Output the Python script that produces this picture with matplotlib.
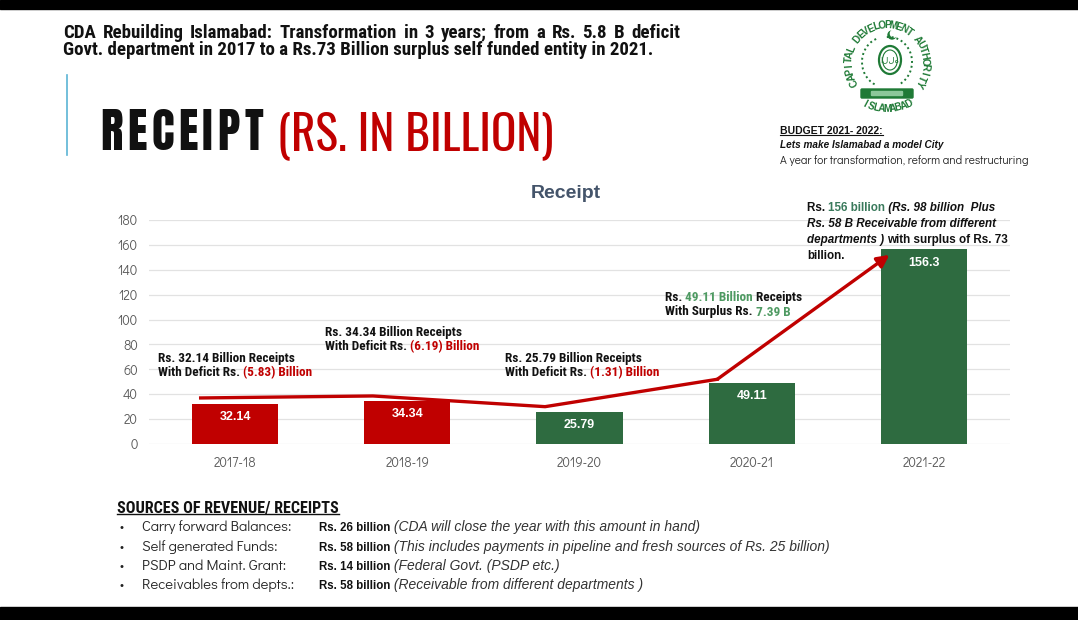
import numpy as np
import matplotlib
matplotlib.use("Agg")
import matplotlib.pyplot as plt
from matplotlib.patches import Rectangle, Circle, Arc, Ellipse, FancyBboxPatch
from matplotlib import font_manager

ttf = font_manager.fontManager.ttflist
names = {f.name for f in ttf}


def pick(*cands):
    for c in cands:
        if c in names:
            return c
    return "DejaVu Sans"


def has_bold(n):
    return any(f.name == n and isinstance(f.weight, int) and f.weight >= 600 for f in ttf)


SANS = pick("Liberation Sans", "DejaVu Sans")
COND = pick("Roboto Condensed", "Barlow Condensed", "Archivo Narrow", "Liberation Sans Narrow", SANS)
HEAD = pick("Oswald", "Bebas Neue", "Antonio", "Roboto Condensed", SANS)
GEO = pick("Didact Gothic", "Questrial", "Century Gothic", SANS)
if has_bold("Oswald"):
    HEAD_B, HEAD_W = "Oswald", "bold"
elif "Anton" in names:
    HEAD_B, HEAD_W = "Anton", "normal"
elif "Bebas Neue" in names:
    HEAD_B, HEAD_W = "Bebas Neue", "normal"
else:
    HEAD_B, HEAD_W = COND, "bold"

# chart data
years = ["2017-18", "2018-19", "2019-20", "2020-21", "2021-22"]
receipts = [32.14, 34.34, 25.79, 49.11, 156.3]
balance = [-5.83, -6.19, -1.31, 7.39, 73]
trend = [37, 38.6, 30, 52, 152]          # hand drawn red arrow line
yticks = list(range(0, 181, 20))

# sources of revenue
sources = ["Carry forward Balances:", "Self generated Funds:",
           "PSDP and Maint. Grant:", "Receivables from depts.:"]
amounts = [26, 58, 14, 58]
notes = ["(CDA will close the year with this amount in hand)",
         "(This includes payments in pipeline and fresh sources of Rs. 25 billion)",
         "(Federal Govt. (PSDP etc.)",
         "(Receivable from different departments )"]

RED = "#C00000"
GREEN = "#2E6B40"
LGREEN = "#4E9A62"
TEAL = "#3A7A5C"
LOGO = "#1F7A36"
bar_colors = [RED, RED, GREEN, GREEN, GREEN]

fig = plt.figure(figsize=(10.78, 6.2), dpi=100)
fig.patch.set_facecolor("white")

# ---- main chart
ax = fig.add_axes([149 / 1078, 176 / 620, 861 / 1078, 224 / 620])
x = np.arange(len(years))
ax.bar(x, receipts, width=0.5, color=bar_colors, zorder=2)
for i, v in enumerate(receipts):
    ax.annotate(f"{v:g}", (i, v), xytext=(0, -9.5), textcoords="offset points",
                ha="center", va="center", color="white", fontsize=9,
                weight="bold", family=SANS, zorder=4)

xs = x - 0.2
ax.plot(xs[:4], trend[:4], color=RED, lw=2.4, zorder=3, solid_joinstyle="miter")
ax.annotate("", xy=(xs[4], trend[4]), xytext=(xs[3], trend[3]),
            arrowprops=dict(arrowstyle="-|>", color=RED, lw=2.4,
                            mutation_scale=18, shrinkA=0, shrinkB=0), zorder=3)

ax.set_xlim(-0.5, 4.5)
ax.set_ylim(0, 180)
ax.set_yticks(yticks)
ax.set_xticks(x)
ax.set_xticklabels(years)
ax.grid(axis="y", color="#E2E2E2", lw=0.9)
ax.set_axisbelow(True)
for s in ax.spines.values():
    s.set_visible(False)
ax.tick_params(length=0, labelsize=9.5, colors="#595959")
ax.tick_params(axis="y", pad=8)
ax.tick_params(axis="x", pad=9)
for lab in ax.get_xticklabels() + ax.get_yticklabels():
    lab.set_family(GEO)

# ---- overlay in pixel coordinates
bg = fig.add_axes([0, 0, 1, 1])
bg.set_xlim(0, 1078)
bg.set_ylim(620, 0)
bg.axis("off")

renderer = fig.canvas.get_renderer()


def multi_text(x0, y0, parts, **kw):
    t = bg.text(x0, y0, parts[0][0], va="baseline", ha="left", **parts[0][1], **kw)
    for s, extra in parts[1:]:
        t = bg.annotate(s, xy=(1, 0), xycoords=t, va="bottom", ha="left", **extra, **kw)
    return t


def underline(t, lw=1.0):
    bb = t.get_window_extent(renderer).transformed(bg.transData.inverted())
    yb = max(bb.y0, bb.y1) - 1.5
    bg.plot([bb.x0, bb.x1], [yb, yb], color=t.get_color(), lw=lw)


def spread(x0, x1, y, pieces, **kw):
    # place pieces (words or letters) so that they fill x0..x1
    ts = [bg.text(0, y, p, va="baseline", **kw) for p in pieces]
    widths = [t.get_window_extent(renderer).width for t in ts]
    gap = (x1 - x0 - sum(widths)) / (len(pieces) - 1)
    pos = x0
    for t, w in zip(ts, widths):
        t.set_x(pos)
        pos += w + gap


bg.add_patch(Rectangle((0, 0), 1078, 9, color="black"))
bg.add_patch(Rectangle((0, 607), 1078, 13, color="black"))

hdr = dict(fontsize=13.6, weight="bold", family=COND, color="#111111")
spread(63, 680, 38, "CDA Rebuilding Islamabad: Transformation in 3 years; from a Rs. 5.8 B deficit".split(" "), **hdr)
bg.text(63, 55, "Govt. department in 2017 to a Rs.73 Billion surplus self funded entity in 2021.",
        va="baseline", **hdr)

bg.plot([67, 67], [75, 155], color="#5BB4D4", lw=1.2)
spread(100, 263, 150, list("RECEIPT"), fontsize=34, weight=HEAD_W,
       family=HEAD_B, color="#111111")
bg.text(277, 150, "(RS. IN BILLION)", va="baseline", fontsize=34,
        family=HEAD, color=RED)

t = bg.text(780, 131, "BUDGET 2021- 2022:", va="center", fontsize=7.5,
            weight="bold", family=SANS, color="#111111")
underline(t, lw=0.8)
bg.text(780, 145, "Lets make Islamabad a model City", va="center", fontsize=7.2,
        weight="bold", style="italic", family=SANS, color="#111111")
bg.text(780, 160, "A year for transformation, reform and restructuring", va="center",
        fontsize=8.4, family=GEO, color="#222222")


# logo
def arc_text(cx, cy, r, text, a0, a1, top=True, **kw):
    angs = np.linspace(a0, a1, len(text))
    for ch, a in zip(text, angs):
        rad = np.deg2rad(a)
        rot = a - 90 if top else a + 90
        bg.text(cx + r * np.cos(rad), cy - r * np.sin(rad), ch, rotation=rot,
                ha="center", va="center", rotation_mode="anchor", **kw)


cx, cy = 887, 63
arc_text(cx, cy, 38, "CAPITAL DEVELOPMENT AUTHORITY", 210, -32, top=True,
         fontsize=7.2, weight="bold", family=SANS, color=LOGO)
arc_text(cx, cy, 46, "ISLAMABAD", 242, 298, top=False,
         fontsize=7, weight="bold", family=SANS, color=LOGO)
bg.add_patch(Ellipse((cx + 3, cy - 3), 22, 28, fill=False, ec=LOGO, lw=1.6))
bg.add_patch(Ellipse((cx + 3, cy - 3), 15, 20, fill=False, ec=LOGO, lw=0.8))
bg.text(cx + 3, cy - 3, "\u0627\u0644\u0644\u0647", ha="center", va="center", fontsize=6,
        color=LOGO, family=["DejaVu Sans"])
bg.add_patch(Circle((cx + 5, cy - 28), 4, color=LOGO))
bg.add_patch(Circle((cx + 7, cy - 29.5), 3.6, color="white"))
for side in (-1, 1):
    bg.add_patch(Arc((cx + side * 2, cy - 1), 46, 50,
                     theta1=(115 if side < 0 else 265), theta2=(255 if side < 0 else 65),
                     ec=LOGO, lw=1.4, ls=(0, (1, 1.5))))
bg.add_patch(FancyBboxPatch((cx - 25, cy + 27), 50, 7, boxstyle="round,pad=1",
                            color=LOGO))
bg.add_patch(FancyBboxPatch((cx - 15, cy + 29), 30, 3, boxstyle="round,pad=0.5",
                            color="#8CC79A"))

# chart title
bg.text(566, 193, "Receipt", ha="center", va="center", fontsize=14,
        weight="bold", family=SANS, color="#44546A")

# annotations
ann = dict(fontsize=9.5, weight="bold", family=COND)
K = dict(color="#111111")
R = dict(color=RED)
G = dict(color=LGREEN)
ann_pos = [(158, 362), (325, 336), (505, 362), (665, 301)]
for i, (ax0, ay0) in enumerate(ann_pos):
    if balance[i] < 0:
        multi_text(ax0, ay0, [(f"Rs. {receipts[i]:.2f} Billion Receipts", K)], **ann)
        multi_text(ax0, ay0 + 14.5, [("With Deficit Rs. ", K),
                                     (f"({abs(balance[i]):.2f}) Billion", R)], **ann)
    else:
        multi_text(ax0, ay0, [("Rs. ", K), (f"{receipts[i]:.2f} Billion", G),
                              (" Receipts", K)], **ann)
        multi_text(ax0, ay0 + 14.5, [("With Surplus Rs. ", K),
                                     (f"{balance[i]:.2f} B", G)], **ann)

a5 = dict(fontsize=8.4, family=SANS)
BK = dict(color="#111111", weight="bold")
BI = dict(color="#111111", weight="bold", style="italic")
multi_text(807, 211, [("Rs. ", BK), ("156 billion", dict(color=TEAL, weight="bold")),
                      (" (Rs. 98 billion  Plus", BI)], **a5)
multi_text(807, 227, [("Rs. 58 B Receivable from different", BI)], **a5)
multi_text(807, 243, [("departments ) ", BI), (f"with surplus of Rs. {balance[4]}", BK)], **a5)
multi_text(807, 259, [("billion.", BK)], **a5)

# sources of revenue
t = bg.text(117, 508, "SOURCES OF REVENUE/ RECEIPTS", va="center", fontsize=11.6,
            weight="bold", family=COND, color="#111111")
underline(t, lw=1.0)
row_y = [531, 551, 570, 589]
for yy, src, amt, note in zip(row_y, sources, amounts, notes):
    bg.text(120, yy, "\u2022", va="baseline", fontsize=8, color="#222222", family=SANS)
    bg.text(142, yy, src, va="baseline", fontsize=10.6, color="#262626", family=GEO)
    multi_text(319, yy, [(f"Rs. {amt} billion", dict(color="#111111", weight="bold",
                                                     family=SANS, fontsize=8.3)),
                         (" " + note, dict(color="#333333", style="italic", family=SANS,
                                           fontsize=10))])

fig.savefig("out.png", dpi=100, facecolor="white")
